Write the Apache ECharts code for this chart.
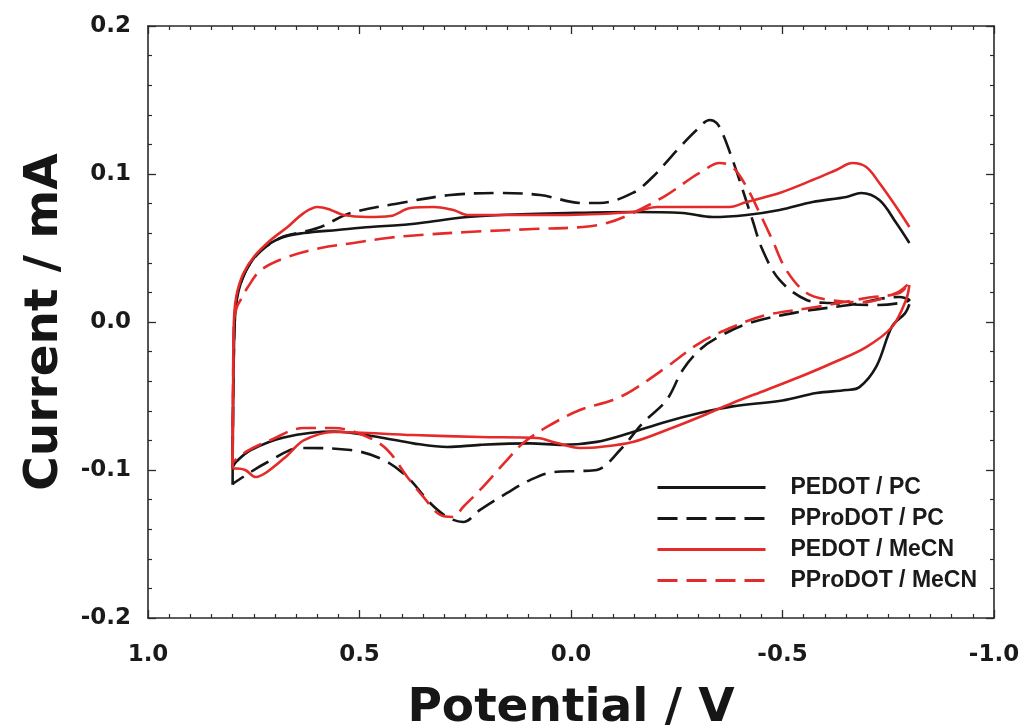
<!DOCTYPE html>
<html>
<head>
<meta charset="utf-8">
<script src="https://cdn.jsdelivr.net/npm/echarts@6/dist/echarts.min.js"></script>
<style>html,body{margin:0;padding:0;background:#fff}#c{width:1026px;height:728px}</style>
</head>
<body>
<div id="c"></div>
<script>
// Potential (V), Current (mA) pairs
const seriesNames = ['PEDOT / PC', 'PProDOT / PC', 'PEDOT / MeCN', 'PProDOT / MeCN'];

const pedotPC = [
  [-0.800,0.012],[-0.790,0.006],[-0.759,-0.003],[-0.722,-0.030],[-0.682,-0.044],[-0.651,-0.046],
  [-0.580,-0.048],[-0.500,-0.053],[-0.382,-0.057],[-0.304,-0.0615],[-0.217,-0.068],[-0.139,-0.075],
  [-0.061,-0.081],[0.019,-0.083],[0.097,-0.082],[0.215,-0.083],[0.292,-0.0845],[0.373,-0.082],
  [0.450,-0.078],[0.561,-0.074],[0.679,-0.078],[0.757,-0.0865],[0.790,-0.094],[0.800,-0.098],
  [0.799,-0.060],[0.797,-0.020],[0.795,0.000],[0.790,0.015],[0.781,0.026],[0.764,0.037],
  [0.733,0.0486],[0.686,0.0568],[0.632,0.0601],[0.552,0.0622],[0.474,0.0642],[0.403,0.0655],
  [0.356,0.0669],[0.245,0.0709],[0.167,0.0723],[0.009,0.0736],[-0.146,0.0743],[-0.264,0.0736],
  [-0.335,0.0709],[-0.415,0.0723],[-0.493,0.0757],[-0.571,0.0811],[-0.651,0.0845],[-0.686,0.0872],
  [-0.729,0.0824],[-0.769,0.0669],[-0.800,0.0534]
];

const pproPC = [
  [0.800,-0.110],[0.799,-0.060],[0.797,-0.020],[0.795,0.000],[0.790,0.017],[0.781,0.026],
  [0.764,0.037],[0.733,0.048],[0.686,0.057],[0.632,0.061],[0.592,0.0642],[0.521,0.0736],
  [0.403,0.0804],[0.285,0.0858],[0.167,0.0872],[0.073,0.0858],[-0.028,0.0804],[-0.068,0.0804],
  [-0.146,0.0872],[-0.193,0.098],[-0.257,0.118],[-0.297,0.1297],[-0.328,0.1365],[-0.344,0.1345],
  [-0.358,0.1277],[-0.382,0.1095],[-0.406,0.0892],[-0.429,0.0689],[-0.453,0.0486],[-0.493,0.0284],
  [-0.557,0.0149],[-0.611,0.0128],[-0.729,0.0115],[-0.800,0.0149],
  [-0.776,0.0169],[-0.658,0.0115],[-0.540,0.0068],[-0.422,-0.0007],[-0.344,-0.0108],[-0.304,-0.0189],
  [-0.264,-0.0324],[-0.226,-0.0527],[-0.170,-0.0682],[-0.116,-0.0865],[-0.061,-0.100],[-0.021,-0.1007],
  [0.042,-0.1014],[0.097,-0.1068],[0.151,-0.1155],[0.215,-0.127],[0.255,-0.1351],[0.292,-0.1318],
  [0.333,-0.1223],[0.387,-0.1047],[0.443,-0.0932],[0.521,-0.0865],[0.639,-0.0851],[0.717,-0.0946],
  [0.797,-0.1088],[0.800,-0.110]
];

const pedotMeCN = [
  [0.800,-0.099],[0.799,-0.050],[0.797,0.000],[0.794,0.012],[0.788,0.0216],[0.774,0.0331],
  [0.750,0.0439],[0.710,0.0554],[0.670,0.0642],[0.632,0.0736],[0.599,0.0777],[0.568,0.0757],
  [0.538,0.0723],[0.481,0.0709],[0.427,0.0716],[0.380,0.0770],[0.325,0.0777],[0.278,0.0757],
  [0.245,0.0723],[0.009,0.0723],[-0.146,0.0743],[-0.203,0.0777],[-0.304,0.0777],[-0.375,0.0777],
  [-0.415,0.0811],[-0.493,0.0872],[-0.571,0.0959],[-0.627,0.1027],[-0.665,0.1074],[-0.698,0.1047],
  [-0.729,0.0939],[-0.769,0.0777],[-0.800,0.0642]
];
const pedotMeCNback = [
  [-0.800,0.025],[-0.792,0.0149],[-0.759,-0.0034],[-0.698,-0.0169],[-0.618,-0.0277],[-0.540,-0.0372],
  [-0.462,-0.0459],[-0.382,-0.0547],[-0.304,-0.0642],[-0.226,-0.0730],[-0.146,-0.0811],[-0.068,-0.0845],
  [-0.021,-0.0851],[0.033,-0.0818],[0.080,-0.0784],[0.215,-0.0777],[0.373,-0.0764],[0.561,-0.0743],
  [0.632,-0.0800],[0.670,-0.0900],[0.717,-0.1010],[0.745,-0.1047],[0.770,-0.1000],[0.790,-0.0990],[0.800,-0.099]
];

const pproMeCN = [
  [0.800,-0.095],[0.799,-0.050],[0.797,0.000],[0.790,0.010],[0.781,0.0149],[0.764,0.0236],
  [0.733,0.0351],[0.670,0.0439],[0.592,0.0500],[0.514,0.0534],[0.434,0.0568],[0.356,0.0588],
  [0.245,0.0608],[0.090,0.0628],[-0.028,0.0642],[-0.085,0.0669],[-0.146,0.0736],[-0.226,0.0858],
  [-0.288,0.0980],[-0.304,0.1007],[-0.351,0.1074],[-0.382,0.1047],[-0.415,0.0912],[-0.446,0.0736],
  [-0.476,0.0554],[-0.509,0.0351],[-0.557,0.0196],[-0.611,0.0149],[-0.689,0.0135],[-0.769,0.0196],
  [-0.800,0.0264],
  [-0.776,0.0196],[-0.698,0.0162],[-0.580,0.0101],[-0.462,0.0047],[-0.382,-0.0034],[-0.304,-0.0142],
  [-0.226,-0.0304],[-0.146,-0.0460],[-0.099,-0.0527],[-0.021,-0.0595],[0.057,-0.0709],[0.113,-0.0818],
  [0.151,-0.0932],[0.215,-0.1135],[0.255,-0.1250],[0.278,-0.1318],[0.309,-0.1304],[0.349,-0.1182],
  [0.387,-0.1047],[0.434,-0.0865],[0.481,-0.0777],[0.561,-0.0716],[0.632,-0.0716],[0.710,-0.0797],
  [0.769,-0.0878],[0.800,-0.095]
];

const xTicks = { min: -1.0, max: 1.0, step: 0.5 };
const yTicks = { min: -0.2, max: 0.2, step: 0.1 };

const BLACK = '#161616', RED = '#e52a2a';
const FONT = 'DejaVu Sans';

const chart = echarts.init(document.getElementById('c'), null, { renderer: 'canvas' });

const axisLineStyle = { color: '#2a2a2a', width: 1.6 };
function xAxisBase(pos, showLabel) {
  return {
    type: 'value', position: pos, inverse: true,
    min: xTicks.min, max: xTicks.max, interval: xTicks.step,
    axisLine: { show: true, onZero: false, lineStyle: axisLineStyle },
    axisTick: { show: true, inside: true, length: 8, lineStyle: { color: '#2a2a2a', width: 1.3 } },
    minorTick: { show: true, splitNumber: 10, length: 4, lineStyle: { color: '#2a2a2a', width: 1.2 } },
    splitLine: { show: false },
    axisLabel: { show: showLabel, margin: 26, color: '#1a1a1a', fontFamily: FONT, fontWeight: 'bold', fontSize: 23,
      formatter: v => v.toFixed(1) }
  };
}
function yAxisBase(pos, showLabel) {
  return {
    type: 'value', position: pos,
    min: yTicks.min, max: yTicks.max, interval: yTicks.step,
    axisLine: { show: true, onZero: false, lineStyle: axisLineStyle },
    axisTick: { show: true, inside: true, length: 8, lineStyle: { color: '#2a2a2a', width: 1.3 } },
    minorTick: { show: true, splitNumber: 5, length: 4, lineStyle: { color: '#2a2a2a', width: 1.2 } },
    splitLine: { show: false },
    axisLabel: { show: showLabel, margin: 17, color: '#1a1a1a', fontFamily: FONT, fontWeight: 'bold', fontSize: 23,
      formatter: v => v.toFixed(1) }
  };
}

const xMain = Object.assign(xAxisBase('bottom', true), {
  name: 'Potential / V', nameLocation: 'middle', nameGap: 67,
  nameTextStyle: { fontFamily: FONT, fontWeight: 'bold', fontSize: 47, color: '#161616' }
});
const yMain = Object.assign(yAxisBase('left', true), {
  name: 'Current / mA', nameLocation: 'middle', nameGap: 80, nameRotate: 90,
  nameTextStyle: { fontFamily: FONT, fontWeight: 'bold', fontSize: 47, color: '#161616' }
});

function lineSeries(name, data, color, dashed) {
  return {
    name: name, type: 'line', data: data, showSymbol: false, symbol: 'none',
    smooth: 0.35, animation: false, clip: true,
    lineStyle: { color: color, width: 2.6, type: dashed ? [20, 9] : 'solid', cap: 'butt', join: 'round' },
    itemStyle: { color: color }
  };
}

chart.setOption({
  backgroundColor: '#ffffff',
  animation: false,
  grid: { left: 148, right: 32, top: 26, bottom: 110, containLabel: false, outerBoundsMode: 'none' },
  xAxis: [xMain, xAxisBase('top', false)],
  yAxis: [yMain, yAxisBase('right', false)],
  legend: {
    orient: 'vertical', left: 656, top: 476, padding: 0,
    data: seriesNames,
    itemWidth: 108, itemHeight: 14, itemGap: 8,
    itemStyle: { opacity: 0, borderWidth: 0 },
    lineStyle: { width: 3, type: 'inherit' },
    formatter: n => '{t|' + n + '}',
    textStyle: {
      rich: { t: { fontFamily: 'Liberation Sans', fontWeight: 'bold', fontSize: 23, color: '#1a1a1a', padding: [0, 0, 0, 20] } }
    }
  },
  series: [
    lineSeries(seriesNames[0], pedotPC, BLACK, false),
    lineSeries(seriesNames[1], pproPC, BLACK, true),
    lineSeries(seriesNames[2], pedotMeCN, RED, false),
    lineSeries(seriesNames[2], pedotMeCNback, RED, false),
    lineSeries(seriesNames[3], pproMeCN, RED, true)
  ]
});
</script>
</body>
</html>
